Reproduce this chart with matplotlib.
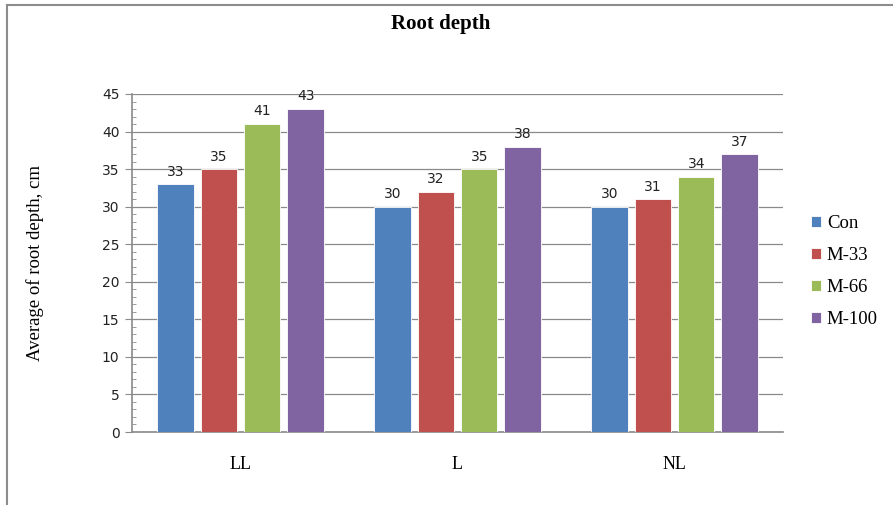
import numpy as np
import matplotlib
matplotlib.use("Agg")
import matplotlib.pyplot as plt
from matplotlib.lines import Line2D
from matplotlib.ticker import MultipleLocator

# root depth per treatment, grouped by site
categories = ["LL", "L", "NL"]
series_names = ["Con", "M-33", "M-66", "M-100"]
con = [33, 30, 30]
m33 = [35, 32, 31]
m66 = [41, 35, 34]
m100 = [43, 38, 37]
colors = ["#4F81BD", "#C0504D", "#9BBB59", "#8064A2"]

serif = "Liberation Serif"
sans = "DejaVu Sans"

fig = plt.figure(figsize=(8.93, 5.05), dpi=100)
ax = fig.add_axes([132 / 893, 1 - 432 / 505, 651 / 893, 338 / 505])

# grey frame around the chart area
fig.add_artist(Line2D([7 / 893, 7 / 893], [0, 1 - 5 / 505], transform=fig.transFigure,
                      color="#8c8c8c", lw=1.5))
fig.add_artist(Line2D([7 / 893, 1], [1 - 5 / 505, 1 - 5 / 505], transform=fig.transFigure,
                      color="#8c8c8c", lw=1.5))

x = np.arange(len(categories))
width = 0.168
step = 0.2
for k, (name, vals) in enumerate(zip(series_names, [con, m33, m66, m100])):
    pos = x + (k - 1.5) * step
    bars = ax.bar(pos, vals, width, color=colors[k], edgecolor="white", linewidth=0.6,
                  label=name, zorder=3)
    for b, v in zip(bars, vals):
        ax.annotate(f"{v}", (b.get_x() + b.get_width() / 2, v), xytext=(0, 4),
                    textcoords="offset points", ha="center", va="bottom",
                    fontsize=10, family=sans, color="#222222")

ax.set_xlim(-0.5, 2.5)
ax.set_ylim(0, 45)
ax.yaxis.set_major_locator(MultipleLocator(5))
ax.yaxis.set_minor_locator(MultipleLocator(1))
ax.grid(axis="y", color="#8a8a8a", linewidth=0.9, zorder=0)
ax.set_xticks(x)
ax.set_xticklabels(categories, family=serif, fontsize=13)
ax.tick_params(axis="x", length=0, pad=17)
ax.tick_params(axis="y", which="major", length=5, direction="out", color="#8a8a8a",
               labelsize=10, pad=4)
ax.tick_params(axis="y", which="minor", length=3, direction="in", color="#8a8a8a")
for lab in ax.get_yticklabels():
    lab.set_family(sans)
    lab.set_color("#222222")

for s in ["top", "right"]:
    ax.spines[s].set_visible(False)
for s in ["left", "bottom"]:
    ax.spines[s].set_color("#8a8a8a")
    ax.spines[s].set_linewidth(1.2)

ax.set_ylabel("Average of root depth, cm", family=serif, fontsize=13.5, labelpad=42)
fig.text(441 / 893, 1 - 24 / 505, "Root depth", family=serif, fontweight="bold",
         fontsize=15, ha="center", va="center")

ax.legend(loc="upper left", bbox_to_anchor=(811 / 893, 1 - 215 / 505),
          bbox_transform=fig.transFigure, frameon=False, prop={"family": serif, "size": 13.5},
          handlelength=0.55, handleheight=0.55, handletextpad=0.3, labelspacing=0.8,
          borderpad=0, borderaxespad=0)

fig.savefig("out.png", dpi=100)
